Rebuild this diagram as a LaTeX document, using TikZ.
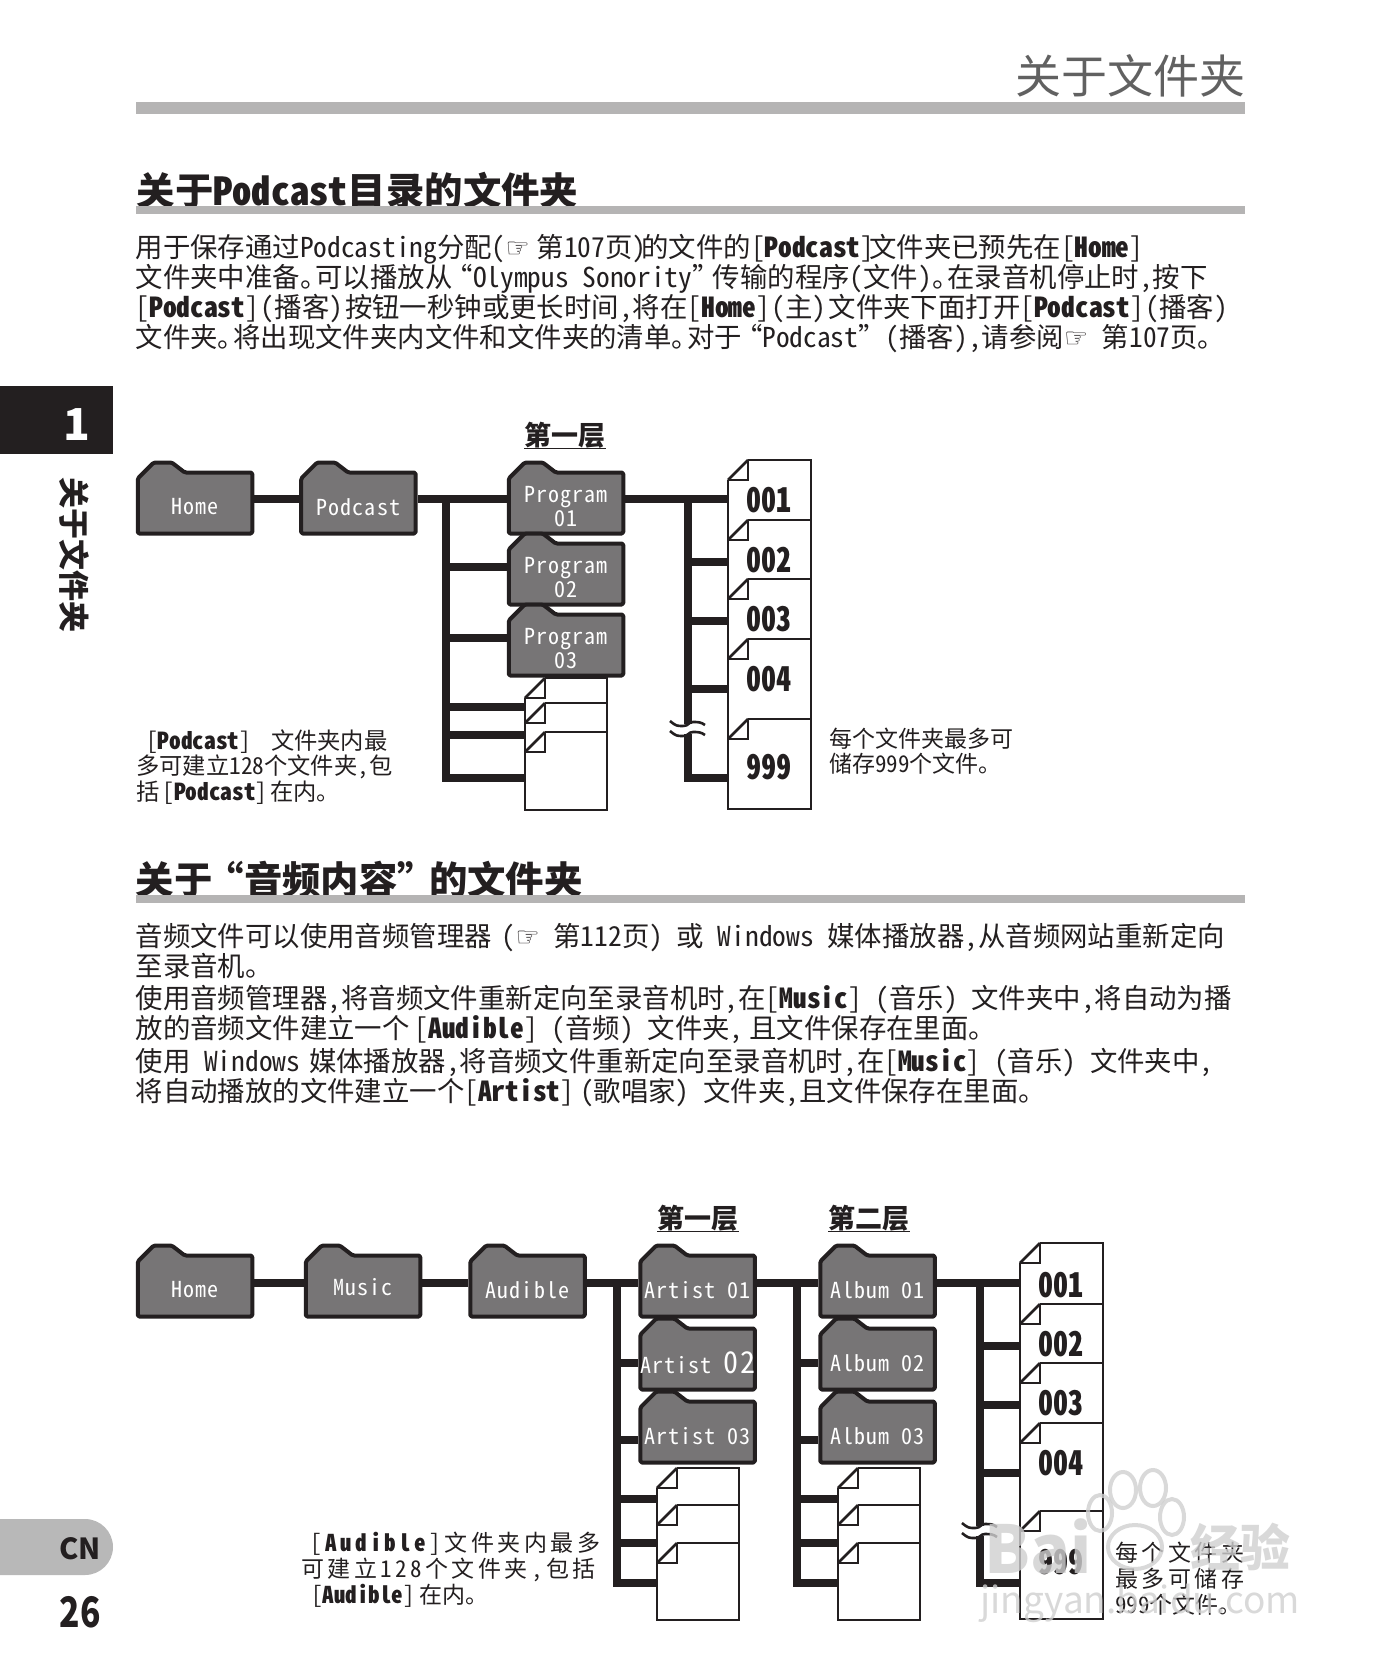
\documentclass[tikz,border=0pt]{standalone}
\usepackage{fontspec}
\setmainfont[RawFeature=+hwid]{Noto Sans CJK SC}
\newfontfamily\plainfont{Noto Sans CJK SC}
\newfontfamily\foldfont[RawFeature=+hwid,LetterSpace=5]{Noto Sans CJK SC}
\newfontfamily\widefont[RawFeature=+hwid,LetterSpace=15]{Noto Sans CJK SC}
\newfontfamily\numfont[RawFeature=+hwid,FakeStretch=.88]{Noto Sans CJK SC}
\newfontfamily\pagefont[FakeStretch=.8]{Noto Sans CJK SC}
\newfontfamily\symfont{DejaVu Sans}
\usetikzlibrary{positioning}
\definecolor{inkblack}{HTML}{231F20}
\definecolor{foldergray}{HTML}{777576}
\definecolor{rulegray}{HTML}{B5B4B4}
\definecolor{markgray}{HTML}{CFCFCF}
\newcommand{\pd}{。\kern-12pt}
\newcommand{\oq}{\kern-.25em“}
\newcommand{\cq}{”\kern-.25em}
\newcommand{\tk}{\kern2pt}
\newcommand{\hand}{{\symfont\fontsize{27}{27}\selectfont ☞}}
\tikzset{
	bodyline/.style={anchor=base west, inner sep=0pt, text=inkblack, font=\fontsize{27.4}{30}\selectfont},
	headline/.style={anchor=base west, inner sep=0pt, text=inkblack, font=\fontsize{38.4}{42}\selectfont\bfseries},
	capline/.style={anchor=base west, inner sep=0pt, text=inkblack, font=\fontsize{23.3}{28}\selectfont},
	smallline/.style={anchor=base west, inner sep=0pt, text=inkblack, font=\fontsize{23}{26}\selectfont},
	wideline/.style={anchor=base west, inner sep=0pt, text=inkblack, font=\fontsize{23}{26}\selectfont\widefont},
	levelmark/.style={inner sep=0pt, text=inkblack, font=\fontsize{27}{30}\selectfont\bfseries},
	levelrule/.style={draw=inkblack, line width=1.5pt},
	folder/.style={rectangle, inner sep=0pt, outer sep=0pt, minimum width=118.5pt, minimum height=65pt, text=white, align=center, font=\fontsize{22}{24}\selectfont\foldfont},
	foldline/.style={draw=inkblack, fill=foldergray, line width=4pt, line join=round, rounded corners=1.5pt},
	sheet/.style={rectangle, draw=inkblack, fill=white, line width=2.6pt, anchor=north west, inner sep=0pt, outer sep=0pt},
	sheetline/.style={draw=inkblack, line width=2.6pt, line join=miter},
	sheetnum/.style={inner sep=0pt, text=inkblack, font=\fontsize{34}{36}\selectfont\numfont\bfseries},
	link/.style={draw=inkblack, line width=8pt},
	watermark/.style={inner sep=0pt, text=markgray, text opacity=.8},
	pawline/.style={draw=markgray, line width=4pt, opacity=.8},
}
% folder: name, centre of the body, text
\newcommand{\folder}[3]{
	\coordinate (#1c) at (#2);
	\draw[foldline] ([shift={(-57.25,-24.5)}]#1c) -- ++(16,-16) -- ++(18,0) -- ++(13,10) -- ++(114.5-47,0) -- ++(0,61) -- ++(-114.5,0) -- cycle;
	\node[folder] (#1) at ([yshift=-4pt]#1c) {#3};
}
% sheet: name, top left, width, height
\newcommand{\sheetnode}[4]{
	\node[sheet, minimum width=#3pt, minimum height=#4pt] (#1) at (#2) {};
	\fill[white] ([shift={(-2,-2)}]#1.north west) rectangle ([shift={(20,20)}]#1.north west);
	\draw[sheetline] ([yshift=-20pt]#1.north west) -- ++(20,-20);
	\draw[sheetline] ([yshift=-20pt]#1.north west) -- ++(20,0) -- ++(0,-20);
}
% break in a vertical link
\newcommand{\linkbreak}[1]{
	\fill[white] ([shift={(-5,-5)}]#1) rectangle ([shift={(5,5)}]#1);
	\foreach \dy in {0,10} {
		\draw[sheetline] ([shift={(-18,-8+\dy)}]#1) .. controls +(6,5) and +(-6,0) .. ([shift={(-5,-3+\dy)}]#1) .. controls +(6,0) and +(-5,0) .. ([shift={(5,-7+\dy)}]#1) .. controls +(5,0) and +(-4,-3) .. ([shift={(17,-4+\dy)}]#1);
	}
}
\begin{document}
\begin{tikzpicture}[x=1pt,y=-1pt]
	\useasboundingbox (0,0) rectangle (1383,1678);

	% header
	\node[anchor=base east, inner sep=0pt, text=black!62, font=\fontsize{46}{48}\selectfont] (title) at (1246,93) {关于文件夹};
	\fill[rulegray] (135.5,102) rectangle (1245,114);

	% side tab
	\fill[inkblack] (0,386) rectangle (113,454);
	\node[text=white, inner sep=0pt, font=\fontsize{44}{44}\selectfont\plainfont\bfseries] (chapter) at (77,425) {1};
	\node[rotate=-90, inner sep=0pt, text=inkblack, font=\fontsize{31}{32}\selectfont\bfseries] (sidetitle) at (74,555) {关于文件夹};
	\fill[black!28] (0,1519) -- (85,1519) arc[start angle=-90, end angle=90, radius=28] -- (0,1575) -- cycle;
	\node[inner sep=0pt, text=inkblack, font=\fontsize{29}{30}\selectfont\plainfont\bfseries] (lang) at (80,1549) {CN};
	\node[inner sep=0pt, text=inkblack, font=\fontsize{42}{44}\selectfont\pagefont\bfseries] (page) at (80,1612) {26};

	% first section
	\node[headline] (heada) at (136.5,205) {关于Podcast目录的文件夹};
	\fill[rulegray] (135.5,206) rectangle (1245,214);
	\node[bodyline] (a1) at (135.5,257) {用于保存通过Podcasting分配(\hand\kern7pt 第107页)\kern-5pt 的文件的[\textbf{Podcast}]\kern-5pt 文件夹已预先在[\textbf{Home}]};
	\node[bodyline] (a2) at (135.5,287) {文件夹中准备\pd 可以播放从\oq Olympus Sonority\cq 传输的程序(文件)\pd 在录音机停止时,按下};
	\node[bodyline] (a3) at (135.5,317) {[\textbf{Podcast}]\tk(播客)\tk 按钮一秒钟或更长时间,将在[\textbf{Home}]\tk(主)\tk 文件夹下面打开[\textbf{Podcast}]\tk(播客)};
	\node[bodyline] (a4) at (135.5,347) {文件夹\pd 将出现文件夹内文件和文件夹的清单\pd 对于\oq Podcast\cq\kern7pt(播客),请参阅\hand\ 第107页。};

	% first tree
	\node[levelmark] (levela) at (565,435) {第一层};
	\draw[levelrule] (levela.south west) -- (levela.south east);
	\folder{home}{195,503}{Home}
	\folder{podcast}{358.4,503}{Podcast}
	\sheetnode{pf1}{525,678}{82}{60}
	\sheetnode{pf2}{525,703}{82}{60}
	\sheetnode{pf3}{525,732}{82}{78}
	\draw[sheetline] ([yshift=-20pt]pf1.north west) -- (pf3.south west);
	\folder{prog1}{566,503}{Program\\01}
	\folder{prog2}{566,574}{Program\\02}
	\folder{prog3}{566,645}{Program\\03}
	\sheetnode{fa1}{728,460}{83}{80}
	\sheetnode{fa2}{728,520}{83}{80}
	\sheetnode{fa3}{728,579}{83}{80}
	\sheetnode{fa4}{728,639}{83}{80}
	\sheetnode{fa9}{728,719}{83}{90}
	\draw[sheetline] ([yshift=-20pt]fa1.north west) -- (fa9.south west);
	\node[sheetnum] (fa1t) at (769,500) {001};
	\node[sheetnum] (fa2t) at (769,560) {002};
	\node[sheetnum] (fa3t) at (769,619) {003};
	\node[sheetnum] (fa4t) at (769,679) {004};
	\node[sheetnum] (fa9t) at (769,767) {999};

	\coordinate (ya) at (0,499);
	\coordinate (busa) at (446,499);
	\coordinate (busaend) at (446,778);
	\coordinate (busb) at (688,499);
	\coordinate (busbend) at (688,778);
	\draw[link] (home.east |- ya) -- (podcast.west |- ya);
	\draw[link] (podcast.east |- ya) -- (prog1.west |- ya);
	\draw[link] (prog1.east |- ya) -- (fa1.west |- ya);
	\draw[link] ([yshift=-4pt]busa) -- ([yshift=-4pt]busaend);
	\draw[link] ([yshift=-4pt]busb) -- ([yshift=-4pt]busbend);
	\coordinate (a2y) at (0,567);
	\coordinate (a3y) at (0,638);
	\coordinate (a4y) at (0,707);
	\coordinate (a5y) at (0,735);
	\draw[link] (busa |- a2y) -- (prog2.west |- a2y);
	\draw[link] (busa |- a3y) -- (prog3.west |- a3y);
	\draw[link] (busa |- a4y) -- (pf1.west |- a4y);
	\draw[link] (busa |- a5y) -- (pf1.west |- a5y);
	\draw[link] (busaend) -- (pf1.west |- busaend);
	\coordinate (b2y) at (0,562);
	\coordinate (b3y) at (0,621);
	\coordinate (b4y) at (0,689);
	\draw[link] (busb |- b2y) -- (fa1.west |- b2y);
	\draw[link] (busb |- b3y) -- (fa1.west |- b3y);
	\draw[link] (busb |- b4y) -- (fa1.west |- b4y);
	\draw[link] (busbend) -- (fa1.west |- busbend);
	\coordinate (brka) at (688,729);
	\linkbreak{brka}

	\node[capline] (ca1) at (146,749) {[\textbf{Podcast}]\kern20pt 文件夹内最};
	\node[capline] (ca2) at (136,774) {多可建立128个文件夹,包};
	\node[capline] (ca3) at (136,800) {括\kern3pt [\textbf{Podcast}]\kern3pt 在内。};
	\node[smallline] (da1) at (829,747) {每个文件夹最多可};
	\node[smallline] (da2) at (829,772) {储存999个文件。};

	% second section
	\node[headline] (headb) at (135.5,894) {关于\kern-.18em“音频内容”\kern-.18em 的文件夹};
	\fill[rulegray] (135.5,895) rectangle (1245,903);
	\node[bodyline] (b1) at (135.5,946) {音频文件可以使用音频管理器\kern10pt(\hand\ 第112页) 或 Windows 媒体播放器,从音频网站重新定向};
	\node[bodyline] (b2) at (135.5,976) {至录音机。};
	\node[bodyline] (b3) at (135.5,1008) {使用音频管理器,将音频文件重新定向至录音机时,在[\textbf{Music}] (音乐) 文件夹中,将自动为播};
	\node[bodyline] (b4) at (135.5,1038) {放的音频文件建立一个\kern5pt[\textbf{Audible}] (音频) 文件夹,\kern6pt 且文件保存在里面。};
	\node[bodyline] (b5) at (135.5,1071) {使用 Windows\kern9pt 媒体播放器,将音频文件重新定向至录音机时,在[\textbf{Music}] (音乐) 文件夹中,};
	\node[bodyline] (b6) at (135.5,1101) {将自动播放的文件建立一个[\textbf{Artist}]\kern6pt(歌唱家) 文件夹,且文件保存在里面。};

	% second tree
	\node[levelmark] (levelb) at (698,1218) {第一层};
	\node[levelmark] (levelc) at (869,1218) {第二层};
	\draw[levelrule] (levelb.south west) -- (levelb.south east);
	\draw[levelrule] (levelc.south west) -- (levelc.south east);
	\folder{homeb}{195,1286}{Home}
	\folder{music}{363,1286}{\raisebox{6pt}{Music}}
	\folder{audible}{527.5,1286}{Audible}
	\sheetnode{mf1}{657,1468}{82}{60}
	\sheetnode{mf2}{657,1505}{82}{60}
	\sheetnode{mf3}{657,1543}{82}{77}
	\draw[sheetline] ([yshift=-20pt]mf1.north west) -- (mf3.south west);
	\folder{art1}{697.6,1286}{Artist 01}
	\folder{art2}{697.6,1359}{Artist {\fontsize{30}{30}\selectfont 02}}
	\folder{art3}{697.6,1432}{Artist 03}
	\sheetnode{nf1}{838,1468}{82}{60}
	\sheetnode{nf2}{838,1505}{82}{60}
	\sheetnode{nf3}{838,1543}{82}{77}
	\draw[sheetline] ([yshift=-20pt]nf1.north west) -- (nf3.south west);
	\folder{alb1}{877.5,1286}{Album 01}
	\folder{alb2}{877.5,1359}{Album 02}
	\folder{alb3}{877.5,1432}{Album 03}
	\sheetnode{fb1}{1020,1243}{83}{80}
	\sheetnode{fb2}{1020,1304}{83}{80}
	\sheetnode{fb3}{1020,1363}{83}{80}
	\sheetnode{fb4}{1020,1423}{83}{108}
	\sheetnode{fb9}{1020,1511}{83}{108}
	\draw[sheetline] ([yshift=-20pt]fb1.north west) -- (fb9.south west);
	\node[sheetnum] (fb1t) at (1061,1285) {001};
	\node[sheetnum] (fb2t) at (1061,1344) {002};
	\node[sheetnum] (fb3t) at (1061,1403) {003};
	\node[sheetnum] (fb4t) at (1061,1463) {004};
	\node[sheetnum] (fb9t) at (1061,1562) {999};

	\coordinate (yb) at (0,1283);
	\coordinate (busc) at (617,1283);
	\coordinate (buscend) at (617,1583);
	\coordinate (busd) at (797,1283);
	\coordinate (busdend) at (797,1583);
	\coordinate (buse) at (980,1283);
	\coordinate (buseend) at (980,1583);
	\draw[link] (homeb.east |- yb) -- (music.west |- yb);
	\draw[link] (music.east |- yb) -- (audible.west |- yb);
	\draw[link] (audible.east |- yb) -- (art1.west |- yb);
	\draw[link] (art1.east |- yb) -- (alb1.west |- yb);
	\draw[link] (alb1.east |- yb) -- (fb1.west |- yb);
	\draw[link] ([yshift=-4pt]busc) -- ([yshift=-4pt]buscend);
	\draw[link] ([yshift=-4pt]busd) -- ([yshift=-4pt]busdend);
	\draw[link] ([yshift=-4pt]buse) -- ([yshift=-4pt]buseend);
	\coordinate (c2y) at (0,1363);
	\coordinate (c3y) at (0,1440);
	\coordinate (c4y) at (0,1499);
	\coordinate (c5y) at (0,1543);
	\draw[link] (busc |- c2y) -- (art2.west |- c2y);
	\draw[link] (busc |- c3y) -- (art3.west |- c3y);
	\draw[link] (busc |- c4y) -- (mf1.west |- c4y);
	\draw[link] (busc |- c5y) -- (mf1.west |- c5y);
	\draw[link] (buscend) -- (mf1.west |- buscend);
	\draw[link] (busd |- c2y) -- (alb2.west |- c2y);
	\draw[link] (busd |- c3y) -- (alb3.west |- c3y);
	\draw[link] (busd |- c4y) -- (nf1.west |- c4y);
	\draw[link] (busd |- c5y) -- (nf1.west |- c5y);
	\draw[link] (busdend) -- (nf1.west |- busdend);
	\coordinate (e2y) at (0,1346);
	\coordinate (e3y) at (0,1405);
	\coordinate (e4y) at (0,1473);
	\draw[link] (buse |- e2y) -- (fb1.west |- e2y);
	\draw[link] (buse |- e3y) -- (fb1.west |- e3y);
	\draw[link] (buse |- e4y) -- (fb1.west |- e4y);
	\draw[link] (buseend) -- (fb1.west |- buseend);
	\coordinate (brkb) at (980,1531);
	\linkbreak{brkb}

	\node[wideline] (cb1) at (310,1551) {[\textbf{Audible}]文件夹内最多};
	\node[wideline] (cb2) at (301,1577) {可建立128个文件夹,包括};
	\node[smallline] (cb3) at (311,1603) {[\textbf{Audible}]\kern5pt 在内。};
	\node[wideline] (db1) at (1115,1561) {每个文件夹};
	\node[wideline] (db2) at (1115,1587) {最多可储存};
	\node[smallline] (db3) at (1115,1613) {999个文件。};

	% watermark
	\node[watermark, font=\fontsize{66}{66}\selectfont\plainfont\bfseries] (wmbai) at (1038,1547) {Bai};
	\foreach \px/\py/\ra/\rb in {1100/1513/12/18, 1123/1490/13/18, 1153/1488/13/18, 1172/1517/12/18} {
		\draw[pawline] (\px,\py) ellipse[x radius=\ra, y radius=\rb];
	}
	\draw[pawline] (1135,1547) ellipse[x radius=27, y radius=22];
	\node[watermark, font=\fontsize{50}{50}\selectfont\plainfont\bfseries] (wmjing) at (1240,1547) {经验};
	\node[watermark, font=\fontsize{37}{37}\selectfont\plainfont] (wmurl) at (1140,1603) {jingyan.baidu.com};
\end{tikzpicture}
\end{document}
